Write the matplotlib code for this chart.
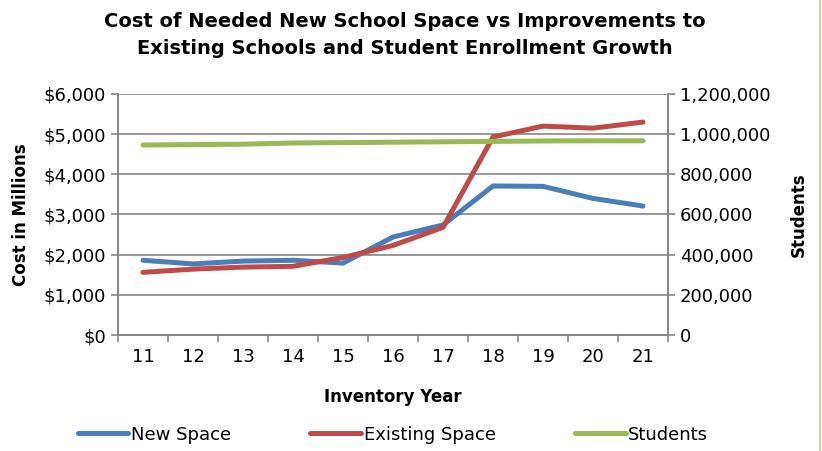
import matplotlib.pyplot as plt
from matplotlib.ticker import FuncFormatter, MultipleLocator

plt.rcParams['font.family'] = ['DejaVu Sans']

years = ['11', '12', '13', '14', '15', '16', '17', '18', '19', '20', '21']
new_space = [1860, 1770, 1840, 1860, 1790, 2440, 2740, 3710, 3700, 3400, 3210]
existing_space = [1560, 1640, 1690, 1710, 1930, 2230, 2680, 4930, 5200, 5150, 5300]
students = [946000, 948000, 950000, 956000, 958000, 960000, 962000, 964000, 966000, 967000, 967000]

grid_col = '#868686'

fig = plt.figure(figsize=(8.22, 4.51), dpi=100)
ax = fig.add_axes([0.1436, 0.2572, 0.6691, 0.5344])
ax2 = ax.twinx()

x = list(range(len(years)))
l1, = ax.plot(x, new_space, color='#4a7ebb', lw=3.6, solid_capstyle='round', label='New Space', zorder=3)
l2, = ax.plot(x, existing_space, color='#be4b48', lw=3.6, solid_capstyle='round', label='Existing Space', zorder=3)
l3, = ax2.plot(x, students, color='#98b954', lw=3.6, solid_capstyle='round', label='Students')

ax.set_xlim(-0.5, len(years) - 0.5)
ax.set_ylim(0, 6000)
ax2.set_ylim(0, 1200000)
ax.yaxis.set_major_locator(MultipleLocator(1000))
ax2.yaxis.set_major_locator(MultipleLocator(200000))
ax.yaxis.set_major_formatter(FuncFormatter(lambda v, p: '${:,.0f}'.format(v)))
ax2.yaxis.set_major_formatter(FuncFormatter(lambda v, p: '{:,.0f}'.format(v)))

ax.set_xticks(x)
ax.set_xticklabels(years)
ax.set_xticks([i - 0.5 for i in range(len(years) + 1)], minor=True)
ax.tick_params(axis='x', which='major', length=0, labelsize=13, pad=9)
ax.tick_params(axis='x', which='minor', length=5, color=grid_col, width=1.2)
ax.tick_params(axis='y', length=5, color=grid_col, width=1.2, labelsize=13)
ax2.tick_params(axis='y', length=5, color=grid_col, width=1.2, labelsize=13)

ax.grid(axis='y', color=grid_col, lw=1.2)
ax.set_axisbelow(True)
for a in (ax, ax2):
    a.spines['top'].set_visible(False)
    for s in ('left', 'right', 'bottom'):
        a.spines[s].set_color(grid_col)
        a.spines[s].set_linewidth(1.2)

ax.set_xlabel('Inventory Year', fontsize=12, fontweight='bold', labelpad=16)
ax.set_ylabel('Cost in Millions', fontsize=12, fontweight='bold', labelpad=10)
ax2.set_ylabel('Students', fontsize=12, fontweight='bold', labelpad=14)

fig.suptitle('Cost of Needed New School Space vs Improvements to\nExisting Schools and Student Enrollment Growth',
             fontsize=14, fontweight='bold', y=0.973, x=0.493, linespacing=1.5)

fig.legend(handles=[l1, l2, l3], loc='lower center', bbox_to_anchor=(0.478, -0.02), ncol=3,
           frameon=False, fontsize=13, handlelength=2.8, handletextpad=0.15, columnspacing=4.4)

fig.add_artist(plt.Line2D([0.998, 0.998], [0, 1], transform=fig.transFigure, color='#c3d69b', lw=1.5))

fig.savefig('out.png', dpi=100)
